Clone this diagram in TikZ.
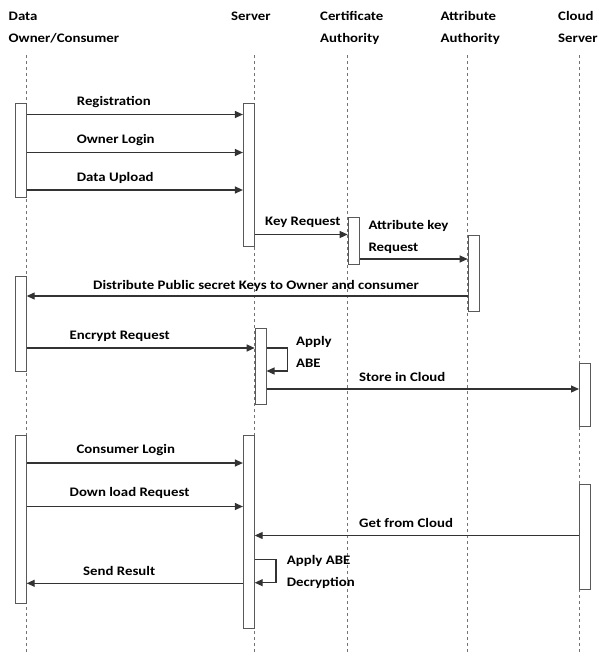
\documentclass[tikz,border=0pt]{standalone}
\usepackage{fontspec}
\setmainfont{Carlito}[FakeStretch=1.14]
\usetikzlibrary{arrows.meta,positioning}

\tikzset{
  life/.style={draw=black!55, line width=0.5pt, dash pattern=on 3pt off 3pt},
  act/.style={draw=black!65, fill=white, line width=0.8pt, minimum width=11pt, inner sep=0pt},
  msg/.style={draw=black!80, line width=1.2pt, -{Triangle[length=8pt,width=7pt]}},
  lbl/.style={font=\bfseries\fontsize{13}{22}\selectfont, inner sep=0pt, anchor=base west, align=left},
}

\begin{document}
\begin{tikzpicture}[x=1pt, y=-1pt]
  \useasboundingbox (0,0) rectangle (602,654);

  % participants (base = last line)
  \node[lbl] (hdata) at (8.5,42.5)  {Data\\Owner/Consumer};
  \node[lbl] (hsrv)  at (231,20.5)  {Server};
  \node[lbl] (hca)   at (320,42.5)  {Certificate\\Authority};
  \node[lbl] (haa)   at (440.5,42.5) {Attribute\\Authority};
  \node[lbl] (hcs)   at (558,42.5)  {Cloud\\Server};

  % lifelines
  \foreach \x in {26.7, 254.7, 347.7, 467.7, 579}
    \draw[life] (\x,55) -- (\x,654);

  % activations
  \node[act, minimum height=94pt,  anchor=north east] (d1)  at (26.7,103)  {};
  \node[act, minimum height=143pt, anchor=north east] (s1)  at (254.7,103) {};
  \node[act, minimum height=47pt,  anchor=north west] (ca1) at (347.7,217) {};
  \node[act, minimum height=76pt,  anchor=north west] (aa1) at (467.7,235) {};
  \node[act, minimum height=95pt,  anchor=north east] (d2)  at (26.7,276)  {};
  \node[act, minimum height=76pt,  anchor=north west] (s2)  at (254.7,328) {};
  \node[act, minimum height=63pt,  anchor=north west] (cs1) at (579,363)   {};
  \node[act, minimum height=168pt, anchor=north east] (d3)  at (26.7,435)  {};
  \node[act, minimum height=193pt, anchor=north east] (s3)  at (254.7,435) {};
  \node[act, minimum height=105pt, anchor=north west] (cs2) at (579,484)   {};

  % registration and upload
  \draw[msg] (d1.east |- 0,114.5) -- (s1.west |- 0,114.5);
  \node[lbl] (mreg) at (76.7,105.5) {Registration};
  \draw[msg] (d1.east |- 0,152.5) -- (s1.west |- 0,152.5);
  \node[lbl] (mlog) at (76.7,143.5) {Owner Login};
  \draw[msg] (d1.east |- 0,190) -- (s1.west |- 0,190);
  \node[lbl] (mup) at (76.7,181) {Data Upload};

  % keys
  \draw[msg] (s1.east |- 0,234.5) -- (ca1.west |- 0,234.5);
  \node[lbl] (mkey) at (265,225) {Key Request};
  \draw[msg] (ca1.east |- 0,259) -- (aa1.west |- 0,259);
  \node[lbl] (mattr) at (368.3,251) {Attribute key\\Request};
  \draw[msg] (aa1.west |- 0,296) -- (d2.east |- 0,296);
  \node[lbl] (mdist) at (93,289) {Distribute Public secret Keys to Owner and consumer};

  % encryption
  \draw[msg] (d2.east |- 0,348) -- (s2.west |- 0,348);
  \node[lbl] (menc) at (69.5,339) {Encrypt Request};
  \draw[msg] (s2.east |- 0,348) -- ++(21,0) |- (s2.east |- 0,371);
  \node[lbl] (mabe) at (296,367) {Apply\\ABE};
  \draw[msg] (s2.east |- 0,389) -- (cs1.west |- 0,389);
  \node[lbl] (mstore) at (359,381) {Store in Cloud};

  % consumer side
  \draw[msg] (d3.east |- 0,463) -- (s3.west |- 0,463);
  \node[lbl] (mcon) at (76.4,453) {Consumer Login};
  \draw[msg] (d3.east |- 0,506.5) -- (s3.west |- 0,506.5);
  \node[lbl] (mdown) at (69.5,496.5) {Down load Request};
  \draw[msg] (cs2.west |- 0,535.5) -- (s3.east |- 0,535.5);
  \node[lbl] (mget) at (359,527) {Get from Cloud};
  \draw[msg] (s3.east |- 0,559.5) -- ++(21.3,0) |- (s3.east |- 0,582.7);
  \node[lbl] (mdec) at (286.7,586) {Apply ABE\\Decryption};
  \draw[msg] (s3.west |- 0,583.3) -- (d3.east |- 0,583.3);
  \node[lbl] (mres) at (83,575) {Send Result};
\end{tikzpicture}
\end{document}
